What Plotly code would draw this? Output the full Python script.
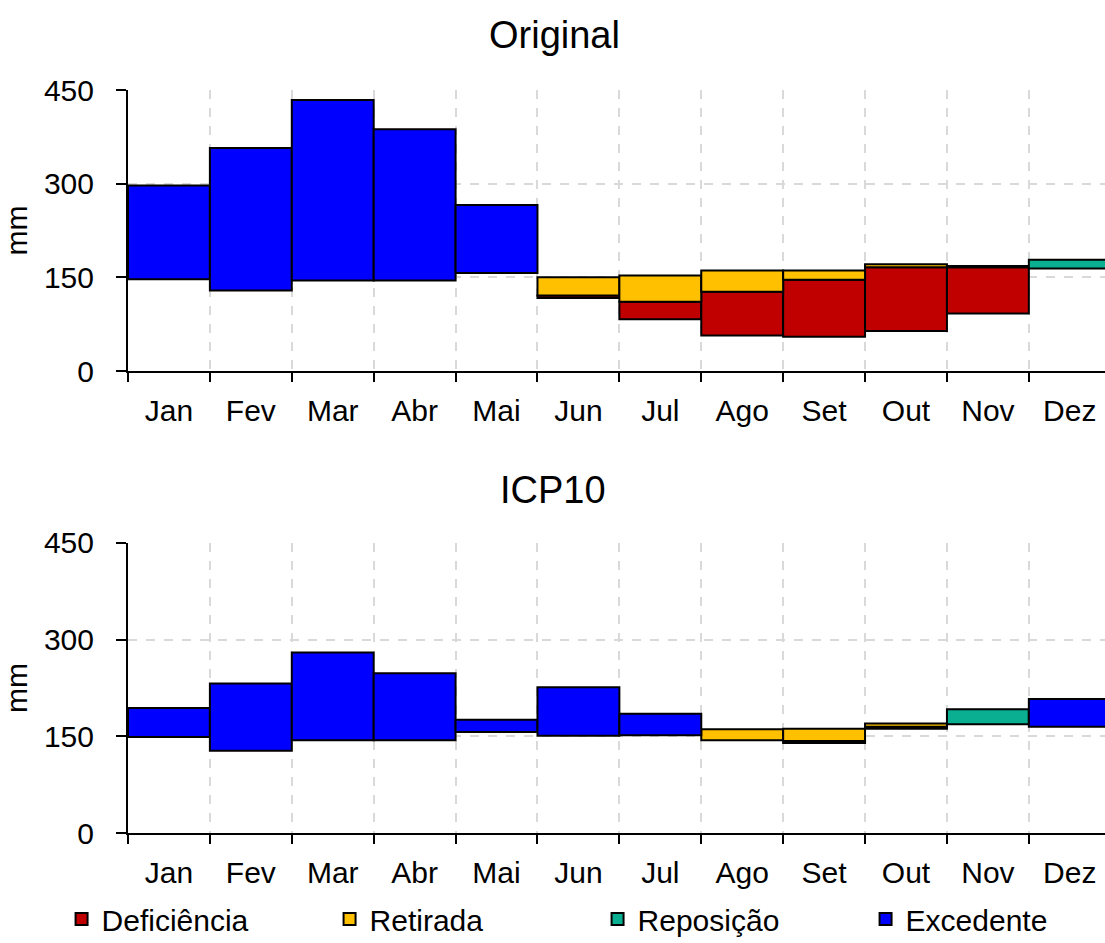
import plotly.graph_objects as go
from plotly.subplots import make_subplots

months = ["Jan", "Fev", "Mar", "Abr", "Mai", "Jun", "Jul", "Ago", "Set", "Out", "Nov", "Dez"]
N = None

# Original: floating segments (low, high) in mm
orig_def_low  = [N, N, N, N, N, 117, 83, 57, 55, 64, 92, N]
orig_def_high = [N, N, N, N, N, 121, 111, 127, 146, 166, 166, N]
orig_ret_low  = [N, N, N, N, N, 121, 111, 127, 146, 166, 166, N]
orig_ret_high = [N, N, N, N, N, 150, 153, 161, 161, 171, 168, N]
orig_rep_low  = [N, N, N, N, N, N, N, N, N, N, N, 164]
orig_rep_high = [N, N, N, N, N, N, N, N, N, N, N, 178]
orig_exc_low  = [147, 129, 145, 145, 157, N, N, N, N, N, N, N]
orig_exc_high = [297, 357, 434, 387, 266, N, N, N, N, N, N, N]

# ICP10
icp_def_low  = [N, N, N, N, N, N, N, N, 140, 162, N, N]
icp_def_high = [N, N, N, N, N, N, N, N, 143, 165, N, N]
icp_ret_low  = [N, N, N, N, N, N, N, 144, 143, 165, N, N]
icp_ret_high = [N, N, N, N, N, N, N, 161, 162, 170, N, N]
icp_rep_low  = [N, N, N, N, N, N, N, N, N, N, 169, N]
icp_rep_high = [N, N, N, N, N, N, N, N, N, N, 192, N]
icp_exc_low  = [149, 128, 144, 144, 157, 151, 152, N, N, N, N, 165]
icp_exc_high = [194, 232, 280, 248, 176, 226, 185, N, N, N, N, 208]

y_ticks = [0, 150, 300, 450]

FONT = "Liberation Sans, Arial, sans-serif"
colors = {"Deficiência": "#C00000", "Retirada": "#FFC000",
          "Reposição": "#0AAF92", "Excedente": "#0000FF"}

fig = make_subplots(rows=2, cols=1)

def seg(lo, hi):
    return [(h - l) if (l is not None and h is not None) else None for l, h in zip(lo, hi)]

panels = [
    (1, [("Deficiência", orig_def_low, orig_def_high), ("Retirada", orig_ret_low, orig_ret_high),
         ("Reposição", orig_rep_low, orig_rep_high), ("Excedente", orig_exc_low, orig_exc_high)]),
    (2, [("Deficiência", icp_def_low, icp_def_high), ("Retirada", icp_ret_low, icp_ret_high),
         ("Reposição", icp_rep_low, icp_rep_high), ("Excedente", icp_exc_low, icp_exc_high)]),
]

for row, series in panels:
    for name, lo, hi in series:
        fig.add_trace(go.Bar(
            x=months, y=seg(lo, hi), base=lo, name=name, width=1,
            marker=dict(color=colors[name], line=dict(color="black", width=2)),
            showlegend=(row == 1), legendgroup=name,
        ), row=row, col=1)

H = 943.0
B = 60.0
PH = H - B
def fy(px):
    return (H - B - px) / PH

XR = [-0.5, 11.43]
fig.update_layout(
    width=1105, height=943,
    margin=dict(l=128, r=0, t=0, b=B, autoexpand=False),
    paper_bgcolor="white", plot_bgcolor="white",
    barmode="overlay",
    font=dict(family=FONT, size=30, color="black"),
    legend=dict(orientation="h", x=-0.068, xanchor="left", y=fy(919), yanchor="middle",
                font=dict(size=30), entrywidth=223, entrywidthmode="pixels",
                itemwidth=30, bgcolor="rgba(0,0,0,0)", traceorder="normal",
                tracegroupgap=0),
    showlegend=True,
)

xa = dict(type="category", categoryorder="array", categoryarray=months,
          tickson="boundaries", ticks="outside", ticklen=9, tickwidth=2, tickcolor="black",
          showline=True, linecolor="black", linewidth=2,
          showgrid=True, gridcolor="#D9D9D9", griddash="dash", gridwidth=2,
          range=XR, ticklabelstandoff=12, tickfont=dict(size=30))
ya = dict(range=[0, 450], tickvals=y_ticks, ticks="outside", ticklen=10, tickwidth=2,
          tickcolor="black", showline=True, linecolor="black", linewidth=2,
          showgrid=True, gridcolor="#D9D9D9", griddash="dash", gridwidth=2,
          zeroline=False, tickfont=dict(size=30), ticklabelstandoff=16,
          title=dict(text="mm", font=dict(size=30), standoff=14))

fig.update_xaxes(**xa)
fig.update_yaxes(**ya)

bounds = [i - 0.5 for i in range(len(months) + 1)]
inner_tick = dict(ticks="inside", ticklen=9, tickwidth=2, tickcolor="black",
                  showticklabels=False, showgrid=False, showline=False, zeroline=False)
fig.update_layout(
    yaxis=dict(domain=[fy(371), fy(90)]),
    yaxis2=dict(domain=[fy(833.3), fy(542.7)]),
    xaxis3=dict(overlaying="x", anchor="y", range=XR, tickvals=bounds, **inner_tick),
    xaxis4=dict(overlaying="x2", anchor="y2", range=XR, tickvals=bounds, **inner_tick),
    yaxis3=dict(overlaying="y", anchor="x", range=[0, 450], tickvals=y_ticks, **inner_tick),
    yaxis4=dict(overlaying="y2", anchor="x2", range=[0, 450], tickvals=y_ticks, **inner_tick),
)

fig.add_annotation(text="Original", xref="paper", yref="paper",
                   x=(554 - 128) / 977, y=fy(35), showarrow=False,
                   xanchor="center", yanchor="middle", font=dict(size=38))
fig.add_annotation(text="ICP10", xref="paper", yref="paper",
                   x=(553 - 128) / 977, y=fy(490), showarrow=False,
                   xanchor="center", yanchor="middle", font=dict(size=38))

fig.write_html("out.html")
